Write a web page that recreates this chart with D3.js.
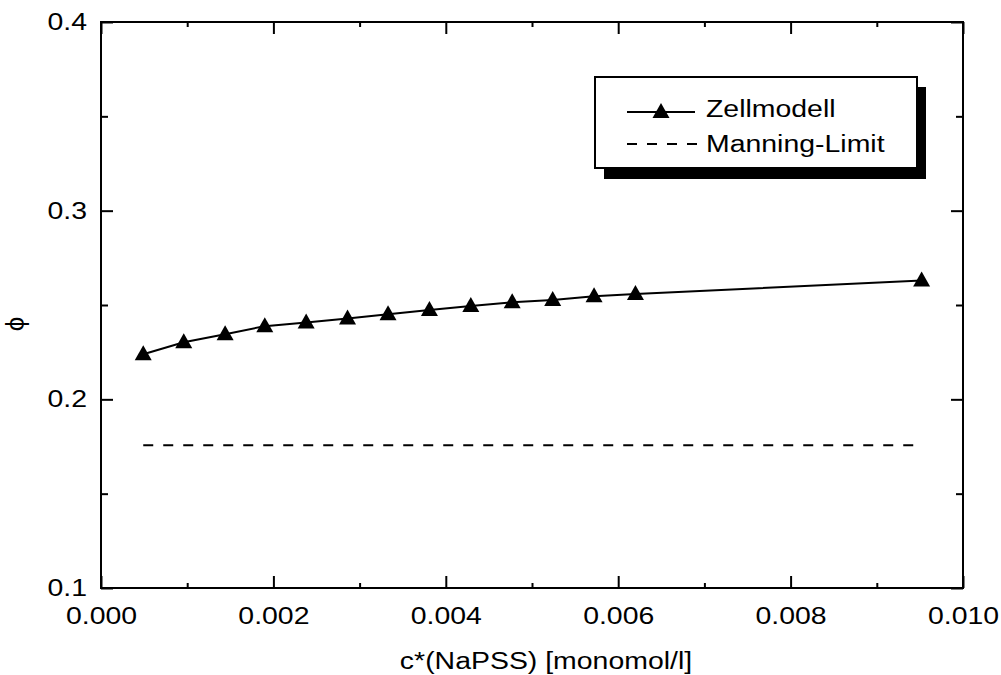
<!DOCTYPE html>
<html>
<head>
<meta charset="utf-8">
<script src="https://cdn.jsdelivr.net/npm/d3@7"></script>
<style>
  body { margin: 0; background: #fff; }
  text { font-family: "Liberation Sans", Arial, sans-serif; fill: #000; }
</style>
</head>
<body>
<svg width="1001" height="675"></svg>
<script>
// data
var cValues   = [0.00049, 0.00096, 0.00144, 0.00190, 0.00238, 0.00286, 0.00333,
                 0.00381, 0.00429, 0.00477, 0.00524, 0.00572, 0.00620, 0.00952];
var phiValues = [0.2239, 0.2303, 0.2345, 0.2388, 0.2407, 0.2429, 0.2451,
                 0.2473, 0.2495, 0.2514, 0.2526, 0.2547, 0.2558, 0.2630];
var manningLimit = 0.1757;
var xTicks = [0, 0.002, 0.004, 0.006, 0.008, 0.010];
var yTicks = [0.1, 0.2, 0.3, 0.4];
var xMinor = [0.001, 0.003, 0.005, 0.007, 0.009];
var yMinor = [0.15, 0.25, 0.35];
var seriesNames = ["Zellmodell", "Manning-Limit"];

var svg = d3.select("svg"),
    margin = {top: 22, right: 38, bottom: 87, left: 101},
    width = svg.attr("width") - margin.left - margin.right,
    height = svg.attr("height") - margin.top - margin.bottom;

// the reference text is a bit wider than Liberation Sans
var sx = 1.21;
var stretch = "scale(" + sx + ",1)";
var fs = 23.5;

var x = d3.scaleLinear().domain([0, 0.010]).range([0, width]),
    y = d3.scaleLinear().domain([0.1, 0.4]).range([height, 0]);

var g = svg.append("g")
  .attr("transform", "translate(" + margin.left + "," + margin.top + ")");

// frame
g.append("rect")
  .attr("width", width).attr("height", height)
  .attr("fill", "none").attr("stroke", "#000").attr("stroke-width", 2);

function styleAxis(sel) {
  sel.select(".domain").remove();
  sel.selectAll("line").attr("stroke", "#000").attr("stroke-width", 2);
}

// major ticks (inward) on all four sides
var bottom = g.append("g").attr("transform", "translate(0," + height + ")")
  .call(d3.axisBottom(x).tickValues(xTicks).tickSize(-12).tickPadding(19)
    .tickFormat(d3.format(".3f")));
bottom.call(styleAxis);
bottom.selectAll("text").attr("font-size", fs).attr("font-family", null)
  .attr("transform", stretch);

var left = g.append("g")
  .call(d3.axisLeft(y).tickValues(yTicks).tickSize(-12).tickFormat(d3.format(".1f")));
left.call(styleAxis);
left.selectAll("text").attr("font-size", fs).attr("font-family", null)
  .attr("x", -14 / sx).attr("transform", stretch);

g.append("g").call(d3.axisTop(x).tickValues(xTicks).tickSize(-12).tickFormat(""))
  .call(styleAxis);
g.append("g").attr("transform", "translate(" + width + ",0)")
  .call(d3.axisRight(y).tickValues(yTicks).tickSize(-12).tickFormat(""))
  .call(styleAxis);

// minor ticks
g.append("g").attr("transform", "translate(0," + height + ")")
  .call(d3.axisBottom(x).tickValues(xMinor).tickSize(-5).tickFormat("")).call(styleAxis);
g.append("g")
  .call(d3.axisTop(x).tickValues(xMinor).tickSize(-5).tickFormat("")).call(styleAxis);
g.append("g")
  .call(d3.axisLeft(y).tickValues(yMinor).tickSize(-7).tickFormat("")).call(styleAxis);
g.append("g").attr("transform", "translate(" + width + ",0)")
  .call(d3.axisRight(y).tickValues(yMinor).tickSize(-7).tickFormat("")).call(styleAxis);

// axis titles
svg.append("text")
  .attr("transform", "translate(546,669) " + stretch)
  .attr("text-anchor", "middle").attr("font-size", fs)
  .text("c*(NaPSS) [monomol/l]");
svg.append("text")
  .attr("transform", "translate(24,324) rotate(-90)")
  .attr("text-anchor", "middle").attr("font-size", 26)
  .attr("font-family", "DejaVu Sans")
  .text("\u03d5");

// Manning limit (dashed)
g.append("line")
  .attr("x1", x(d3.min(cValues))).attr("x2", x(d3.max(cValues)))
  .attr("y1", y(manningLimit)).attr("y2", y(manningLimit))
  .attr("stroke", "#000").attr("stroke-width", 2)
  .attr("stroke-dasharray", "10,10");

// cell model line + markers
var line = d3.line().x(function(d, i) { return x(cValues[i]); })
                    .y(function(d) { return y(d); });
g.append("path").datum(phiValues)
  .attr("d", line).attr("fill", "none")
  .attr("stroke", "#000").attr("stroke-width", 2);

var tri = "M0,-9L8.5,6L-8.5,6Z";
g.selectAll(".tri").data(phiValues).enter().append("path")
  .attr("class", "tri")
  .attr("d", tri)
  .attr("transform", function(d, i) { return "translate(" + x(cValues[i]) + "," + y(d) + ")"; });

// legend
var lg = svg.append("g");
lg.append("rect").attr("x", 604).attr("y", 87).attr("width", 322).attr("height", 92)
  .attr("fill", "#000");
lg.append("rect").attr("x", 595).attr("y", 77).attr("width", 322).attr("height", 91)
  .attr("fill", "#fff").attr("stroke", "#000").attr("stroke-width", 2);

lg.append("line").attr("x1", 627).attr("x2", 695).attr("y1", 112).attr("y2", 112)
  .attr("stroke", "#000").attr("stroke-width", 2);
lg.append("path").attr("d", tri).attr("transform", "translate(661,112)");
lg.append("line").attr("x1", 627).attr("x2", 697).attr("y1", 144).attr("y2", 144)
  .attr("stroke", "#000").attr("stroke-width", 2).attr("stroke-dasharray", "10,10");

lg.selectAll(".ltxt").data(seriesNames).enter().append("text")
  .attr("class", "ltxt")
  .attr("transform", function(d, i) { return "translate(706," + (117 + i * 35) + ") " + stretch; })
  .attr("font-size", fs)
  .text(function(d) { return d; });
</script>
</body>
</html>
